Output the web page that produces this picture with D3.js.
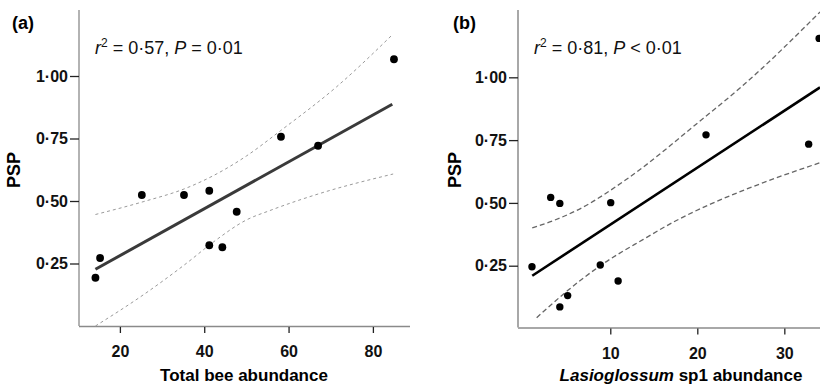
<!DOCTYPE html>
<html>
<head>
<meta charset="utf-8">
<script src="https://cdn.jsdelivr.net/npm/d3@7"></script>
<style>
  body { margin: 0; background: #fff; }
  svg { display: block; font-family: "Liberation Sans", Arial, sans-serif; }
</style>
</head>
<body>
<svg id="s" width="820" height="385"></svg>
<script>
// panel (a) - total bee abundance vs PSP
var beeTotal = [14.2, 15.3, 25.2, 35.2, 41.2, 41.2, 44.3, 47.7, 58.2, 67.0, 85.0];
var pspA     = [0.193, 0.272, 0.524, 0.524, 0.541, 0.323, 0.315, 0.457, 0.757, 0.721, 1.067];
var fitAx = [14.2, 84.6];
var fitAy = [0.227, 0.887];
var upAx  = [14.2, 25.5, 35.8, 42, 50, 58, 71.4, 84.8];
var upAy  = [0.446, 0.497, 0.552, 0.6, 0.68, 0.78, 0.957, 1.168];
var loAx  = [14.2, 25.5, 35.8, 42.1, 50.1, 55.6, 67.4, 84.8];
var loAy  = [0.0, 0.124, 0.251, 0.335, 0.425, 0.462, 0.53, 0.608];
var ticksAx = [20, 40, 60, 80];

// panel (b) - Lasioglossum sp1 abundance vs PSP
var lasio = [1.0, 3.15, 4.2, 4.2, 5.1, 8.85, 10.05, 10.9, 21.0, 32.8, 34.0];
var pspB  = [0.246, 0.522, 0.498, 0.086, 0.131, 0.253, 0.501, 0.189, 0.771, 0.734, 1.155];
var fitBx = [1.03, 34.1];
var fitBy = [0.210, 0.960];
var upBx  = [1.03, 3.5, 6.7, 11.7, 20.7, 25, 34.1];
var upBy  = [0.401, 0.43, 0.48, 0.59, 0.837, 0.96, 1.26];
var loBx  = [1.54, 5.17, 8.85, 13.8, 17.6, 21.5, 25.3, 29.1, 34.1];
var loBy  = [0.043, 0.153, 0.25, 0.355, 0.43, 0.495, 0.55, 0.6, 0.66];
var ticksBx = [10, 20, 30];

var ticksY = [0.25, 0.5, 0.75, 1.0];

var svg = d3.select("#s");

var fmt = function(d) { return d.toFixed(2).replace(".", "\u00b7"); };
var pairs = function(xs, ys) { return xs.map(function(v, i) { return [v, ys[i]]; }); };

var panel = function(o) {
    var g = svg.append("g");
    var x = o.x, y = o.y;
    var line = d3.line()
        .x(function(d) { return x(d[0]); })
        .y(function(d) { return y(d[1]); })
        .curve(d3.curveMonotoneX);

    // axis lines
    g.append("line")
        .attr("x1", o.left).attr("x2", o.left)
        .attr("y1", 10).attr("y2", o.bottom)
        .attr("stroke", o.axisColor).attr("stroke-width", o.axisWidth);
    g.append("line")
        .attr("x1", o.left).attr("x2", o.right)
        .attr("y1", o.bottom + 0.5).attr("y2", o.bottom + 0.5)
        .attr("stroke", o.axisColor).attr("stroke-width", o.axisWidth);

    var ya = g.append("g")
        .attr("transform", "translate(" + o.left + ",0)")
        .call(d3.axisLeft(y).tickValues(ticksY).tickFormat(fmt).tickSize(9).tickPadding(2));
    var xa = g.append("g")
        .attr("transform", "translate(0," + (o.bottom + 1) + ")")
        .call(d3.axisBottom(x).tickValues(o.xticks).tickFormat(d3.format("d")).tickSize(6).tickPadding(13));
    [ya, xa].forEach(function(a) {
        a.select(".domain").remove();
        a.selectAll("line").attr("stroke", "#222").attr("stroke-width", 1.3);
        a.selectAll("text")
            .attr("fill", "#111")
            .attr("font-size", 16)
            .attr("font-weight", "bold")
            .attr("font-family", "Liberation Sans, Arial, sans-serif");
    });

    // confidence band
    g.append("path").datum(pairs(o.upx, o.upy))
        .attr("d", line).attr("fill", "none")
        .attr("stroke", o.ciColor).attr("stroke-width", o.ciWidth)
        .attr("stroke-dasharray", o.dash);
    g.append("path").datum(pairs(o.lox, o.loy))
        .attr("d", line).attr("fill", "none")
        .attr("stroke", o.ciColor).attr("stroke-width", o.ciWidth)
        .attr("stroke-dasharray", o.dash);

    // fitted line
    g.append("path").datum(pairs(o.fitx, o.fity))
        .attr("d", d3.line().x(function(d) { return x(d[0]); }).y(function(d) { return y(d[1]); }))
        .attr("stroke", o.fitColor).attr("stroke-width", o.fitWidth)
        .attr("fill", "none");

    g.selectAll("circle").data(pairs(o.px, o.py)).enter().append("circle")
        .attr("cx", function(d) { return x(d[0]); })
        .attr("cy", function(d) { return y(d[1]); })
        .attr("r", o.r)
        .attr("fill", "black");

    // panel letter
    g.append("text").attr("x", o.letterX).attr("y", 29)
        .attr("font-size", 18).attr("font-weight", "bold")
        .text(o.letter);

    // stats
    var st = g.append("text").attr("x", o.statX).attr("y", 54).attr("font-size", 18).attr("fill", "#111");
    st.append("tspan").attr("font-style", "italic").text("r");
    st.append("tspan").attr("font-size", 12).attr("dy", -7).text("2");
    st.append("tspan").attr("dy", 7).text(" = " + o.r2 + ", ");
    st.append("tspan").attr("font-style", "italic").text("P");
    st.append("tspan").text(o.pText);

    // y title
    g.append("text")
        .attr("transform", "translate(" + o.yTitleX + ",170) rotate(-90)")
        .attr("text-anchor", "middle")
        .attr("font-size", 18).attr("font-weight", "bold")
        .text("PSP");

    // x title
    var xt = g.append("text").attr("x", o.xTitleX).attr("y", 381)
        .attr("text-anchor", "middle")
        .attr("font-size", 17).attr("font-weight", "bold");
    o.xTitle.forEach(function(p) {
        xt.append("tspan").attr("font-style", p[1] ? "italic" : "normal").text(p[0]);
    });
};

panel({
    x: d3.scaleLinear().domain([10.3, 88.8]).range([79, 410]),
    y: d3.scaleLinear().domain([0, 1.264]).range([326, 10]),
    left: 79, right: 410, bottom: 326,
    xticks: ticksAx,
    axisColor: "#8a8a8a", axisWidth: 1.3,
    px: beeTotal, py: pspA,
    fitx: fitAx, fity: fitAy, fitColor: "#3a3a3a", fitWidth: 3,
    upx: upAx, upy: upAy, lox: loAx, loy: loAy,
    ciColor: "#9a9a9a", ciWidth: 1, dash: "3,3",
    r: 3.9,
    letter: "(a)", letterX: 12,
    statX: 95, r2: "0\u00b757", pText: " = 0\u00b701",
    yTitleX: 20,
    xTitleX: 244, xTitle: [["Total bee abundance", false]]
});

panel({
    x: d3.scaleLinear().domain([-0.64, 34.1]).range([517.7, 820]),
    y: d3.scaleLinear().domain([0, 1.268]).range([328.5, 10]),
    left: 518, right: 820, bottom: 327.5,
    xticks: ticksBx,
    axisColor: "#a8a8a8", axisWidth: 2,
    px: lasio, py: pspB,
    fitx: fitBx, fity: fitBy, fitColor: "#000", fitWidth: 2.6,
    upx: upBx, upy: upBy, lox: loBx, loy: loBy,
    ciColor: "#666", ciWidth: 1.3, dash: "5,3",
    r: 3.7,
    letter: "(b)", letterX: 453,
    statX: 534, r2: "0\u00b781", pText: " < 0\u00b701",
    yTitleX: 461,
    xTitleX: 681, xTitle: [["Lasioglossum", true], [" sp1 abundance", false]]
});
</script>
</body>
</html>
